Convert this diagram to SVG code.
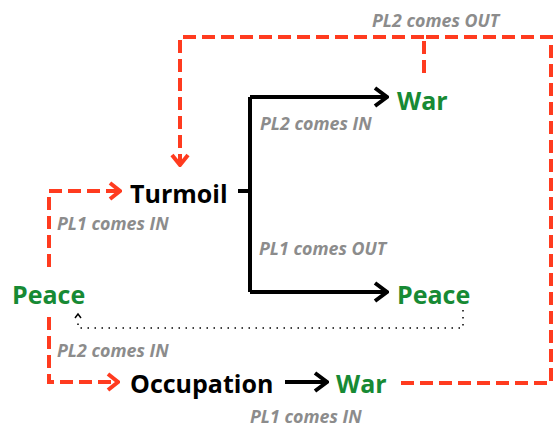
<svg xmlns="http://www.w3.org/2000/svg" width="553" height="428" viewBox="0 0 553 428">
<defs>
<style>
.red{fill:none;stroke:#ff3b1f;stroke-width:4;stroke-dasharray:13 6}
.blk{fill:none;stroke:#000;stroke-width:4}
.dot{fill:none;stroke:#000;stroke-width:1.5;stroke-dasharray:1.5 5.5}
.big{font-family:"Open Sans",Lato,sans-serif;font-weight:bold;font-size:25px}
.g{fill:#178a34}
.k{fill:#000}
.lbl{font-family:"Open Sans",Lato,sans-serif;font-weight:bold;font-style:italic;font-size:17.8px;fill:#8c8c8c}
</style>
<marker id="ra" viewBox="0 0 14 20" refX="12" refY="10" markerWidth="14" markerHeight="20" markerUnits="userSpaceOnUse" orient="auto"><path d="M2,2 L12,10 L2,18" fill="none" stroke="#ff3b1f" stroke-width="4"/></marker>
<marker id="ka" viewBox="0 0 16 22" refX="14" refY="11" markerWidth="16" markerHeight="22" markerUnits="userSpaceOnUse" orient="auto"><path d="M2,2 L14,11 L2,20" fill="none" stroke="#000" stroke-width="4"/></marker>
</defs>
<g id="connectors">
<path class="red" d="M424,73 V37 H551 V383 H401"/>
<path class="red" d="M424,37 H180 V165" marker-end="url(#ra)"/>
<path class="red" d="M49,267 V191 H120" marker-end="url(#ra)"/>
<path class="red" d="M49,317 V382 H118" marker-end="url(#ra)"/>
<path class="blk" d="M238,191 H250"/>
<path class="blk" d="M250,97 V292"/>
<path class="blk" d="M250,97 H387" marker-end="url(#ka)"/>
<path class="blk" d="M250,292 H387" marker-end="url(#ka)"/>
<path class="blk" d="M285,382 H327" marker-end="url(#ka)"/>
<path class="dot" d="M463,310 V328 H78 V318"/>
<path d="M75,318 L78,314 L81,318" fill="none" stroke="#000" stroke-width="1.5"/>
</g>
<g id="turmoil"><text class="big k" x="130" y="203">Turmoil</text></g>
<g id="war-top"><text class="big g" x="397" y="110">War</text></g>
<g id="peace-left"><text class="big g" x="12" y="304">Peace</text></g>
<g id="peace-right"><text class="big g" x="397" y="304">Peace</text></g>
<g id="occupation"><text class="big k" x="130" y="393">Occupation</text></g>
<g id="war-bottom"><text class="big g" x="336" y="393">War</text></g>
<g id="labels">
<text class="lbl" x="372" y="27">PL2 comes OUT</text>
<text class="lbl" x="260" y="130">PL2 comes IN</text>
<text class="lbl" x="57" y="230">PL1 comes IN</text>
<text class="lbl" x="259" y="255">PL1 comes OUT</text>
<text class="lbl" x="57" y="357">PL2 comes IN</text>
<text class="lbl" x="250" y="423">PL1 comes IN</text>
</g>
</svg>
